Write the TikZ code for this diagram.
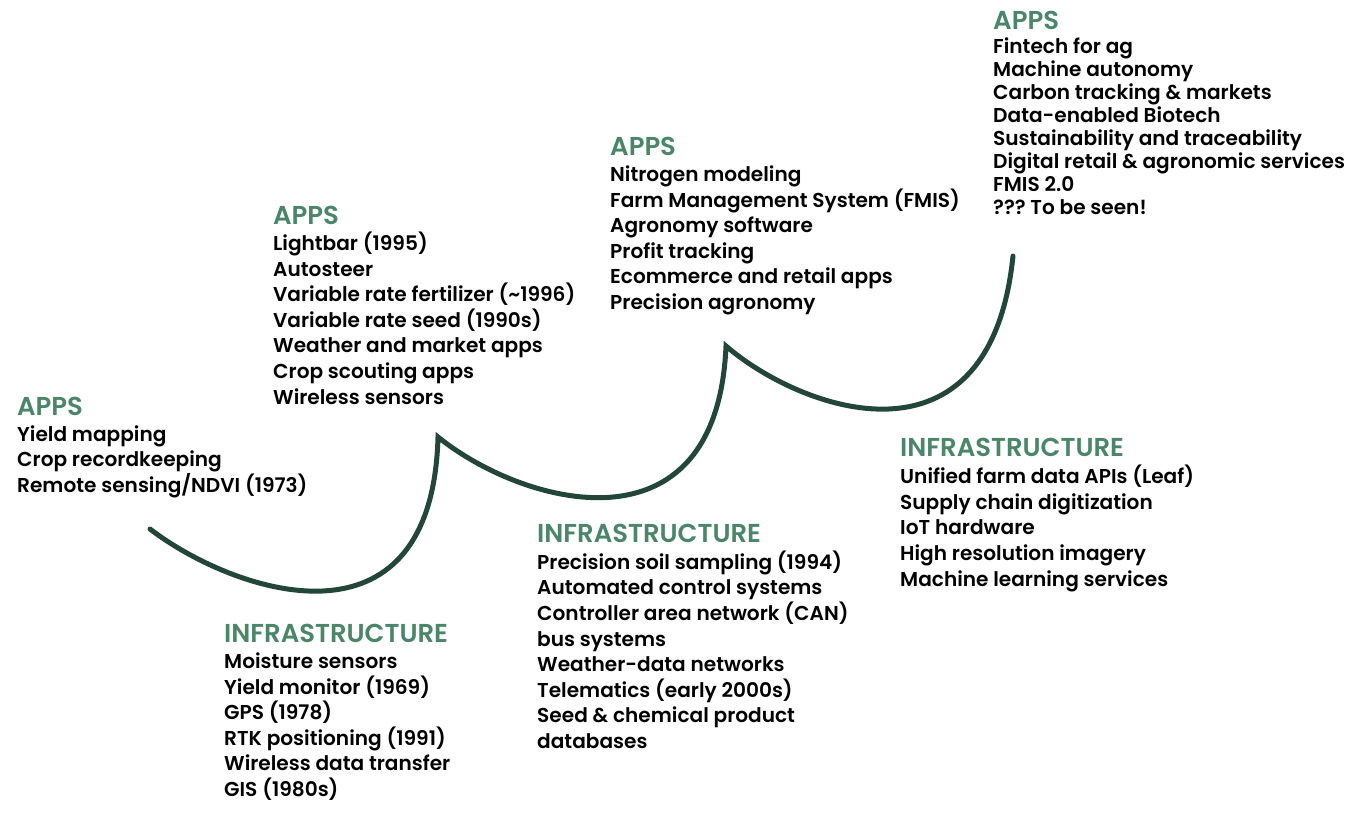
\documentclass[tikz,border=0pt]{standalone}
\usepackage{fontspec}
\setmainfont{Poppins}[UprightFont=* SemiBold]
\usepackage{xcolor}
\definecolor{aggreen}{RGB}{74,134,104}
\definecolor{agdark}{RGB}{34,70,56}
\usetikzlibrary{positioning}
\frenchspacing

\tikzset{
  head/.style={anchor=west, inner sep=0pt, text=aggreen, font=\fontsize{25.9}{30}\selectfont},
  list/.style={anchor=base west, inner sep=0pt, align=left, font=\fontsize{20.1}{25.6}\selectfont},
  wave/.style={agdark, line width=5pt, line cap=round, line join=miter}
}

\begin{document}
\begin{tikzpicture}[x=1pt,y=-1pt]
  \useasboundingbox (0,0) rectangle (1359,819);

  % The growth curve
  \coordinate (c0) at (150,529);
  \coordinate (c1) at (438,437);
  \coordinate (c2) at (726,346);
  \coordinate (c3) at (1013,256);
  \draw[wave] (c0) .. controls (232,592) and (432,662) .. (c1)
                   .. controls (522,505) and (717,560) .. (c2)
                   .. controls (800,410) and (990,480) .. (c3);

  % --- Stage 1 ---  (list nodes sit on their last baseline)
  \node[head] (apps1) at (17,406) {APPS};
  \node[list] (apps1list) at (17,492.5) {Yield mapping\\Crop recordkeeping\\Remote sensing/NDVI (1973)};

  \node[head] (infra1) at (224,633) {INFRASTRUCTURE};
  \node[list] (infra1list) at (224,796.5) {Moisture sensors\\Yield monitor (1969)\\GPS (1978)\\RTK positioning (1991)\\Wireless data transfer\\GIS (1980s)};

  % --- Stage 2 ---
  \node[head] (apps2) at (273,215) {APPS};
  \node[list] (apps2list) at (273,404) {Lightbar (1995)\\Autosteer\\Variable rate fertilizer (\textasciitilde1996)\\Variable rate seed (1990s)\\Weather and market apps\\Crop scouting apps\\Wireless sensors};

  \node[head] (infra2) at (537,533) {INFRASTRUCTURE};
  \node[list] (infra2list) at (537,748.5) {Precision soil sampling (1994)\\Automated control systems\\Controller area network (CAN)\\bus systems\\Weather-data networks\\Telematics (early 2000s)\\Seed \& chemical product\\databases};

  % --- Stage 3 ---
  \node[head] (apps3) at (610,146) {APPS};
  \node[list] (apps3list) at (610,309.5) {Nitrogen modeling\\Farm Management System (FMIS)\\Agronomy software\\Profit tracking\\Ecommerce and retail apps\\Precision agronomy};

  \node[head] (infra3) at (900,447) {INFRASTRUCTURE};
  \node[list] (infra3list) at (900,586) {Unified farm data APIs (Leaf)\\Supply chain digitization\\IoT hardware\\High resolution imagery\\Machine learning services};

  % --- Stage 4 ---
  \node[head] (apps4) at (993,20) {APPS};
  \node[list, font=\fontsize{20.1}{23}\selectfont] (apps4list) at (993,214.5) {Fintech for ag\\Machine autonomy\\Carbon tracking \& markets\\Data-enabled Biotech\\Sustainability and traceability\\Digital retail \& agronomic services\\FMIS 2.0\\??? To be seen!};
\end{tikzpicture}
\end{document}
